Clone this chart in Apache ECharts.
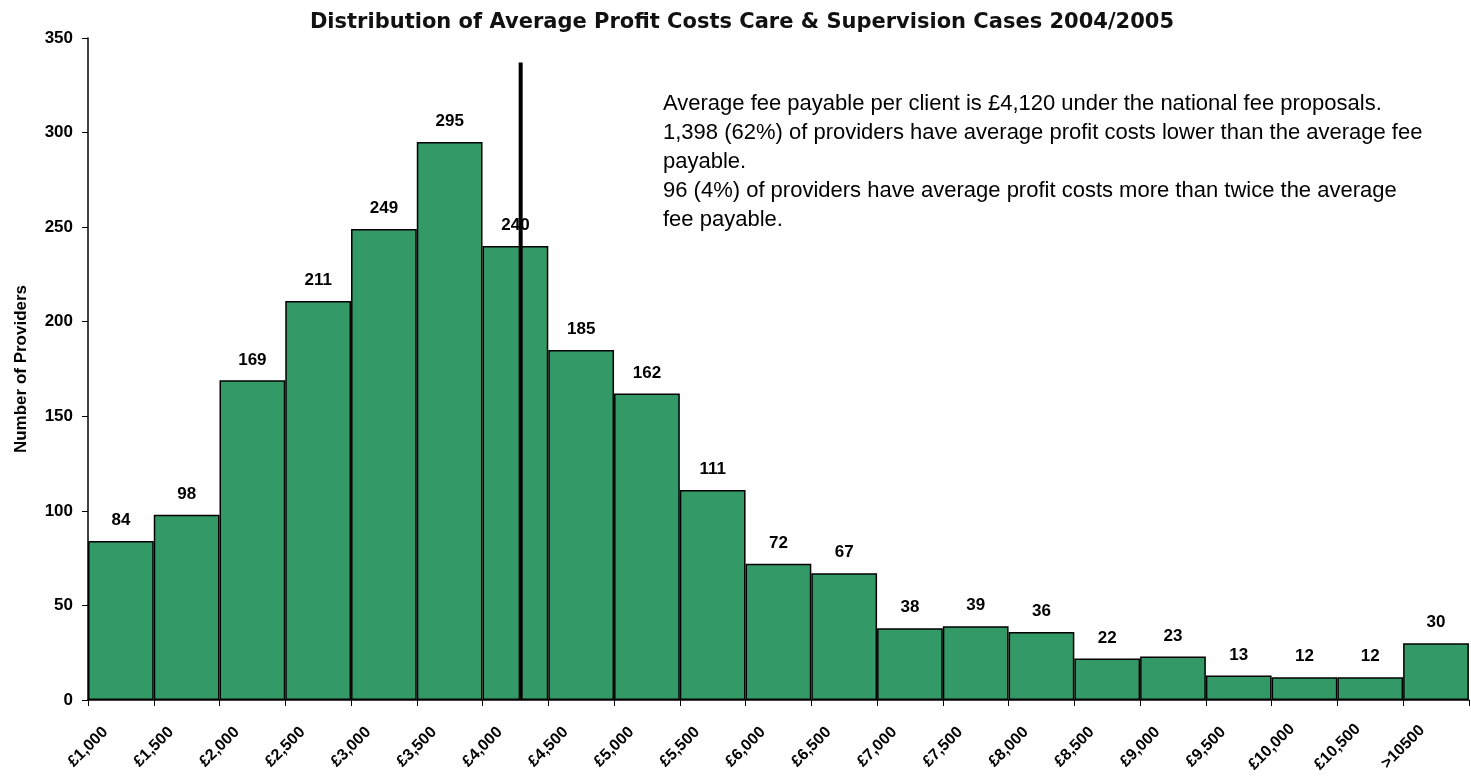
<!DOCTYPE html>
<html>
<head>
<meta charset="utf-8">
<script src="https://cdn.jsdelivr.net/npm/echarts@6/dist/echarts.min.js"></script>
<style>
  html, body { margin: 0; padding: 0; background: #fff; }
  #chart { width: 1471px; height: 776px; }
</style>
</head>
<body>
<div id="chart"></div>
<script>
// bins (left edge labels) and provider counts
const tickLabels = ["£1,000", "£1,500", "£2,000", "£2,500", "£3,000", "£3,500", "£4,000",
  "£4,500", "£5,000", "£5,500", "£6,000", "£6,500", "£7,000", "£7,500", "£8,000",
  "£8,500", "£9,000", "£9,500", "£10,000", "£10,500", ">10500"];
const providers = [84, 98, 169, 211, 249, 295, 240, 185, 162, 111, 72, 67, 38, 39, 36, 22, 23, 13, 12, 12, 30];
// marker line as drawn on the chart (value scale 1000..11500)
const markerX = [4290, 4290];
const markerY = [0, 337];
const noteLines = [
  "Average fee payable per client is £4,120 under the national fee proposals.",
  "1,398 (62%) of providers have average profit costs lower than the average fee",
  "payable.",
  "96 (4%) of providers have average profit costs more than twice the average",
  "fee payable."
];

const chart = echarts.init(document.getElementById("chart"));
const font = "'Liberation Sans', Arial, sans-serif";

const option = {
  animation: false,
  textStyle: { fontFamily: font },
  title: [
    {
      text: "Distribution of Average Profit Costs Care & Supervision Cases 2004/2005",
      left: 737,
      textAlign: "center",
      top: 7,
      textStyle: { fontFamily: "'DejaVu Sans', Verdana, sans-serif", fontSize: 21, fontWeight: "bold", color: "#111" }
    },
    {
      text: noteLines.join("\n"),
      left: 658,
      top: 84,
      textStyle: { fontFamily: font, fontSize: 22, fontWeight: "normal", color: "#000", lineHeight: 29 }
    }
  ],
  grid: { left: 88, right: 1, top: 38, bottom: 76 },
  xAxis: [
    {
      type: "category",
      data: tickLabels,
      boundaryGap: true,
      axisLine: { show: false },
      axisTick: { show: false },
      axisLabel: { show: false }
    },
    {
      type: "category",
      position: "bottom",
      data: tickLabels.concat([""]),
      boundaryGap: false,
      axisLine: { show: true, lineStyle: { color: "#000", width: 1.5 } },
      axisTick: { show: true, length: 6, interval: 0, lineStyle: { color: "#000" } },
      axisLabel: {
        interval: 0,
        rotate: 45,
        align: "center",
        verticalAlign: "middle",
        margin: 47,
        fontSize: 16,
        fontWeight: "bold",
        color: "#000"
      }
    },
    {
      type: "value",
      min: 1000,
      max: 11500,
      show: false
    }
  ],
  yAxis: {
    type: "value",
    min: 0,
    max: 350,
    interval: 50,
    name: "Number of Providers",
    nameLocation: "middle",
    nameGap: 58,
    nameTextStyle: { fontSize: 17, fontWeight: "bold", color: "#000" },
    axisLine: { show: true, lineStyle: { color: "#000", width: 1.5 } },
    axisTick: { show: true, length: 6, lineStyle: { color: "#000" } },
    axisLabel: { fontSize: 17, fontWeight: "bold", color: "#000", margin: 15 },
    splitLine: { show: false }
  },
  series: [
    {
      type: "bar",
      xAxisIndex: 0,
      data: providers,
      barWidth: "100%",
      barCategoryGap: 0,
      itemStyle: { color: "#339966", borderColor: "#000", borderWidth: 1.5 },
      label: {
        show: true,
        position: "top",
        distance: 12,
        fontSize: 17,
        fontWeight: "bold",
        color: "#000"
      },
      z: 2
    },
    {
      type: "line",
      xAxisIndex: 2,
      data: markerX.map((x, i) => [x, markerY[i]]),
      symbol: "none",
      lineStyle: { color: "#000", width: 4 },
      z: 5
    }
  ]
};

chart.setOption(option);
</script>
</body>
</html>
